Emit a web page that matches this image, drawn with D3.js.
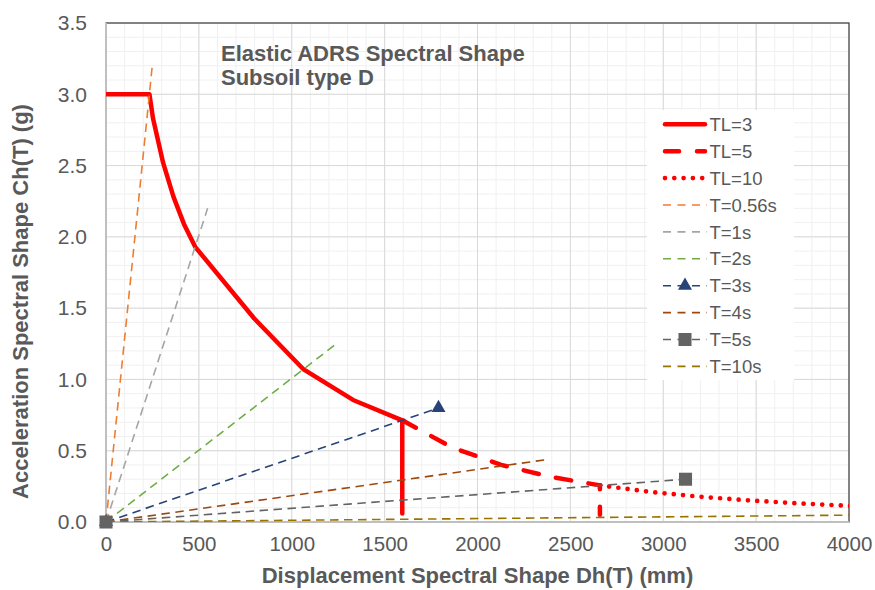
<!DOCTYPE html>
<html lang="en">
<head>
<meta charset="UTF-8">
<title>Elastic ADRS Spectral Shape</title>
<script src="https://d3js.org/d3.v7.js"></script>
<style>
	body { margin: 0; background: white; }
	svg text { font-family: "Liberation Sans", Arial, sans-serif; }
</style>
</head>
<body>
<svg id="chart" width="875" height="590"></svg>
<script>

	// ---- data ----
	// TL=3 : plateau, curve and the drop at T=3s
	const tl3Dh = [0, 234, 253, 307, 363, 420, 480, 798, 1064, 1330, 1595, 1595];
	const tl3Ch = [3.0, 3.0, 2.832, 2.522, 2.282, 2.089, 1.93, 1.427, 1.07, 0.856, 0.713, 0.06];

	// TL=5 : continues from T=3s to T=5s and drops
	const tl5Dh = [1595, 1861, 2127, 2393, 2659, 2659];
	const tl5Ch = [0.713, 0.524, 0.401, 0.317, 0.257, 0.05];

	// TL=10 : continues past T=5s (clipped at 4000)
	const tl10Dh = [2659, 2924, 3190, 3456, 3722, 3988, 4254];
	const tl10Ch = [0.257, 0.212, 0.178, 0.152, 0.131, 0.114, 0.100];

	// period lines from the origin
	const periodNames  = ["T=0.56s", "T=1s", "T=2s", "T=3s", "T=4s", "T=5s", "T=10s"];
	const periodEndDh  = [249, 547, 1240, 1790, 2385, 3120, 4000];
	const periodEndCh  = [3.2, 2.2, 1.25, 0.8, 0.44, 0.3, 0.048];
	const periodColors = ["#ed7d31", "#a5a5a5", "#70ad47", "#264478", "#9e480e", "#636363", "#997300"];
	const periodMarker = ["none", "none", "none", "triangle", "none", "square", "none"];

	const xTicks = [0, 500, 1000, 1500, 2000, 2500, 3000, 3500, 4000];
	const yTicks = [0, 0.5, 1.0, 1.5, 2.0, 2.5, 3.0, 3.5];

	const titleLines = ["Elastic ADRS Spectral Shape", "Subsoil type D"];
	const xTitle = "Displacement Spectral Shape Dh(T) (mm)";
	const yTitle = "Acceleration Spectral Shape Ch(T) (g)";

	// ---- layout ----
	var svg = d3.select("#chart");
	const plotLeft = 106, plotRight = 849, plotTop = 23, plotBottom = 522;
	const grey = "#595959";

	var x = d3.scaleLinear().domain([0, 4000]).range([plotLeft, plotRight]);
	var y = d3.scaleLinear().domain([0, 3.5]).range([plotBottom, plotTop]);

	// minor grid every 100 mm / 0.1 g
	svg.append("g").selectAll("line")
		.data(d3.range(0, 4001, 100))
		.join("line")
		.attr("x1", d => x(d)).attr("x2", d => x(d))
		.attr("y1", plotTop).attr("y2", plotBottom)
		.attr("stroke", "#f0f0f0");
	svg.append("g").selectAll("line")
		.data(d3.range(0, 36).map(i => i / 10))
		.join("line")
		.attr("y1", d => y(d)).attr("y2", d => y(d))
		.attr("x1", plotLeft).attr("x2", plotRight)
		.attr("stroke", "#f0f0f0");

	// major grid
	svg.append("g").selectAll("line")
		.data(xTicks)
		.join("line")
		.attr("x1", d => x(d)).attr("x2", d => x(d))
		.attr("y1", plotTop).attr("y2", plotBottom)
		.attr("stroke", "#d9d9d9");
	svg.append("g").selectAll("line")
		.data(yTicks)
		.join("line")
		.attr("y1", d => y(d)).attr("y2", d => y(d))
		.attr("x1", plotLeft).attr("x2", plotRight)
		.attr("stroke", "#d9d9d9");

	// plot border (dark) then the two grey axis lines
	svg.append("rect")
		.attr("x", plotLeft).attr("y", plotTop)
		.attr("width", plotRight - plotLeft).attr("height", plotBottom - plotTop)
		.attr("fill", "none").attr("stroke", "#404040").attr("stroke-width", 1.2);
	svg.append("line")
		.attr("x1", plotLeft).attr("x2", plotLeft).attr("y1", plotTop).attr("y2", plotBottom)
		.attr("stroke", "#bfbfbf").attr("stroke-width", 2);
	svg.append("line")
		.attr("x1", plotLeft).attr("x2", plotRight).attr("y1", plotBottom).attr("y2", plotBottom)
		.attr("stroke", "#bfbfbf").attr("stroke-width", 2);

	// axes: only the labels, no domain or ticks
	var xAxis = svg.append("g")
		.attr("transform", "translate(0," + plotBottom + ")")
		.call(d3.axisBottom(x).tickValues(xTicks).tickSize(0).tickPadding(14).tickFormat(d3.format("d")));
	xAxis.select(".domain").remove();
	xAxis.selectAll("text")
		.attr("font-size", "20.5px").attr("fill", grey)
		.attr("font-family", "Liberation Sans, Arial, sans-serif");

	var yAxis = svg.append("g")
		.attr("transform", "translate(" + plotLeft + ",0)")
		.call(d3.axisLeft(y).tickValues(yTicks).tickSize(0).tickPadding(19).tickFormat(d3.format(".1f")));
	yAxis.select(".domain").remove();
	yAxis.selectAll("text")
		.attr("font-size", "21px").attr("fill", grey)
		.attr("font-family", "Liberation Sans, Arial, sans-serif");

	// clip the series to the plot area
	svg.append("clipPath").attr("id", "plotClip")
		.append("rect")
		.attr("x", plotLeft).attr("y", plotTop - 10)
		.attr("width", plotRight - plotLeft).attr("height", plotBottom - plotTop + 10);

	var plot = svg.append("g").attr("clip-path", "url(#plotClip)");
	var line = d3.line().x(d => x(d[0])).y(d => y(d[1]));

	// red spectral curves
	plot.append("path")
		.attr("d", line(d3.zip(tl3Dh, tl3Ch)))
		.attr("fill", "none").attr("stroke", "#ff0000")
		.attr("stroke-width", 4.5).attr("stroke-linejoin", "round").attr("stroke-linecap", "round");
	plot.append("path")
		.attr("d", line(d3.zip(tl5Dh, tl5Ch)))
		.attr("fill", "none").attr("stroke", "#ff0000")
		.attr("stroke-width", 4.5).attr("stroke-linecap", "round")
		.attr("stroke-dasharray", "15.5,17.5");
	plot.append("path")
		.attr("d", line(d3.zip(tl10Dh, tl10Ch)))
		.attr("fill", "none").attr("stroke", "#ff0000")
		.attr("stroke-width", 4.7).attr("stroke-linecap", "round")
		.attr("stroke-dasharray", "0,9.3")
		.attr("stroke-dashoffset", -9.3);

	// period lines from the origin
	periodNames.forEach(function(name, i)
	{
		plot.append("path")
			.attr("d", line([[0, 0], [periodEndDh[i], periodEndCh[i]]]))
			.attr("fill", "none").attr("stroke", periodColors[i])
			.attr("stroke-width", 1.6).attr("stroke-dasharray", "8.5,5.5");
	});

	// markers (drawn unclipped, in series order)
	const symbolFor = { triangle: d3.symbolTriangle, square: d3.symbolSquare };
	const symbolSize = { triangle: 85, square: 170 };
	periodNames.forEach(function(name, i)
	{
		if (periodMarker[i] === "none") return;
		svg.append("g").selectAll("path")
			.data([[0, 0], [periodEndDh[i], periodEndCh[i]]])
			.join("path")
			.attr("transform", d => "translate(" + x(d[0]) + "," + y(d[1]) + ")")
			.attr("d", d3.symbol(symbolFor[periodMarker[i]], symbolSize[periodMarker[i]]))
			.attr("fill", periodColors[i]);
	});

	// chart title inside the plot
	svg.append("g").selectAll("text")
		.data(titleLines)
		.join("text")
		.attr("x", 221).attr("y", (d, i) => 61 + i * 23.5)
		.attr("font-size", "22px").attr("font-weight", "bold").attr("fill", grey)
		.text(d => d);

	// axis titles
	svg.append("text")
		.attr("x", 477.5).attr("y", 583)
		.attr("text-anchor", "middle")
		.attr("font-size", "22px").attr("font-weight", "bold").attr("fill", grey)
		.text(xTitle);
	svg.append("text")
		.attr("transform", "translate(28,301.5) rotate(-90)")
		.attr("text-anchor", "middle")
		.attr("font-size", "22px").attr("font-weight", "bold").attr("fill", grey)
		.text(yTitle);

	// ---- legend ----
	var legendItems = [
		{ name: "TL=3",  color: "#ff0000", width: 4.5, dash: null,     cap: "round", marker: "none" },
		{ name: "TL=5",  color: "#ff0000", width: 4.5, dash: "14,18",  cap: "round", marker: "none" },
		{ name: "TL=10", color: "#ff0000", width: 4.7, dash: "0,9.3",  cap: "round", marker: "none" }
	].concat(periodNames.map((n, i) => ({
		name: n, color: periodColors[i], width: 1.6, dash: "8,6.5", cap: "butt", marker: periodMarker[i]
	})));

	var legend = svg.append("g");
	legend.append("rect")
		.attr("x", 647).attr("y", 110).attr("width", 147).attr("height", 270)
		.attr("fill", "white");

	var rows = legend.selectAll("g.row")
		.data(legendItems)
		.join("g")
		.attr("class", "row")
		.attr("transform", (d, i) => "translate(0," + (124.3 + i * 26.9) + ")");

	rows.append("line")
		.attr("x1", d => d.cap === "round" ? 665 : 663)
		.attr("x2", d => d.cap === "round" ? 705 : 707)
		.attr("stroke", d => d.color)
		.attr("stroke-width", d => d.width)
		.attr("stroke-linecap", d => d.cap)
		.attr("stroke-dasharray", d => d.dash);

	rows.filter(d => d.marker !== "none")
		.append("path")
		.attr("transform", "translate(685,0)")
		.attr("d", d => d3.symbol(symbolFor[d.marker], symbolSize[d.marker])())
		.attr("fill", d => d.color);

	rows.append("text")
		.attr("x", 709.5).attr("y", 6.6)
		.attr("font-size", "18.5px").attr("fill", grey)
		.text(d => d.name);

</script>
</body>
</html>
